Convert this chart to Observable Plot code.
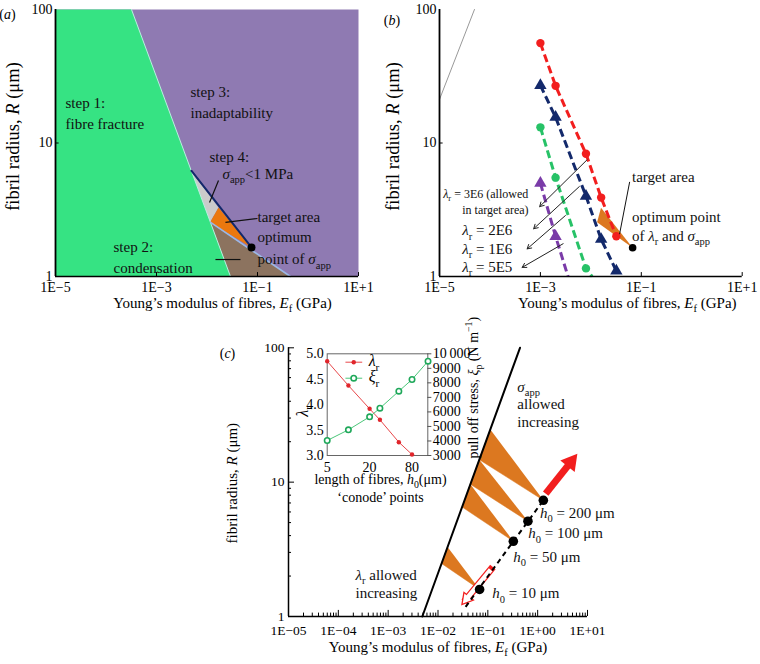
<!DOCTYPE html>
<html><head><meta charset="utf-8">
<script src="https://cdn.jsdelivr.net/npm/d3@7"></script>
<script src="https://cdn.jsdelivr.net/npm/@observablehq/plot@0.6"></script>
<style>
body{margin:0;background:#fff}
#root{position:relative;width:760px;height:664px;overflow:hidden;background:#fff}
#root svg{position:absolute;overflow:visible}
</style>
</head><body><div id="root"></div>
<script>
// ================= DATA =================
// ---- panel (a): regions, E = Young's modulus (GPa), R = fibril radius (μm)
const fractureE = [1e-5, 3.2e-4, 0.0292, 1e-5];
const fractureR = [100, 100, 1, 1];
const condensE = [0.0115, 0.0292, 0.45];
const condensR = [2.54, 1, 1];
const step4E = [4.8e-3, 0.0169, 0.0115];
const step4R = [6.2, 3.29, 2.54];
const targetAE = [0.0169, 0.0115, 0.076];
const targetAR = [3.29, 2.54, 1.65];
const sigmaLineAE = [4.9e-3, 0.076];
const sigmaLineAR = [6.2, 1.65];
const condLineAE = [0.0118, 0.45];
const condLineAR = [2.54, 1];
const optimumAE = [0.076];
const optimumAR = [1.65];
const labelAText = ["step 1:", "fibre fracture", "step 3:", "inadaptability", "step 4:", "*σ*_{app}<1 MPa", "target area", "optimum", "point of *σ*_{app}", "step 2:", "condensation"];
const labelAE = [1.58e-5, 1.58e-5, 4.71e-3, 4.71e-3, 0.0112, 0.0203, 0.1, 0.1, 0.1, 1.41e-4, 1.41e-4];
const labelAR = [19.8, 13.8, 23.9, 16.6, 7.78, 5.81, 2.77, 1.96, 1.34, 1.65, 1.15];
const leaderAE1 = [0.0169, 0.0232, 0.0147];
const leaderAR1 = [5.24, 2.54, 1.34];
const leaderAE2 = [0.01122, 0.1, 0.046];
const leaderAR2 = [3.58, 2.72, 1.34];

// ---- shared axis ticks for (a) and (b)
const abXTicks = [1e-5, 1e-3, 1e-1, 10];
const abXLabels = ["1E−5", "1E−3", "1E−1", "1E+1"];
const abYTicks = [1, 10, 100];
const abYLabels = ["1", "10", "100"];

// ---- panel (b)
const guideBE = [1e-5, 4.93e-5];
const guideBR = [21.2, 100];
const lam3E6E = [0.001, 0.002, 0.008, 0.016, 0.032];
const lam3E6R = [56, 26.8, 8.3, 3.9, 2.0];
const lam2E6E = [0.001, 0.002, 0.008, 0.016, 0.032];
const lam2E6R = [27, 15.6, 4.0, 1.9, 1.1];
const lam1E6E = [0.001, 0.002, 0.008];
const lam1E6R = [13.1, 5.5, 1.15];
const lam1E6LineE = [0.001, 0.002, 0.008, 0.0106];
const lam1E6LineR = [13.1, 5.5, 1.15, 1];
const lam5E5E = [0.001, 0.002];
const lam5E5R = [5.0, 2.0];
const lam5E5LineE = [0.001, 0.002, 3.53e-3];
const lam5E5LineR = [5.0, 2.0, 1];
const targetBE = [0.0159, 0.0133, 0.0673];
const targetBR = [3.27, 2.55, 1.64];
const optimumBE = [0.0673];
const optimumBR = [1.64];
const arrowBE1 = [8.41e-3, 5.92e-3, 3.13e-3, 2.82e-3];
const arrowBR1 = [7.48, 4.72, 2.86, 1.76];
const arrowBE2 = [9.68e-4, 7.36e-4, 5.46e-4, 4.35e-4];
const arrowBR2 = [3.34, 2.28, 1.61, 1.17];
const labelBText = ["*λ*_{r} = 3E6 (allowed", "in target area)", "*λ*_{r} = 2E6", "*λ*_{r} = 1E6", "*λ*_{r} = 5E5", "target area", "optimum point", "of *λ*_{r} and *σ*_{app}"];
const labelBE = [1.18e-5, 2.82e-5, 2.82e-5, 2.82e-5, 2.82e-5, 0.0655, 0.0655, 0.0655];
const labelBR = [4.16, 3.12, 2.21, 1.61, 1.17, 5.55, 2.78, 2.02];
const labelBSize = [12, 12, 15, 15, 15, 15, 15, 15];
const leaderBE = [0.0586, 0.0372];
const leaderBR = [5.08, 2.09];

// ---- panel (c)
const limitCE = [4.84e-3, 0.442];
const limitCR = [1, 100];
const conodeH0 = [10, 50, 100, 200];
const conodeE = [0.0684, 0.325, 0.638, 1.30];
const conodeR = [1.59, 3.63, 5.12, 7.33];
const conodeLineE = [0.0358, 1.30];
const conodeLineR = [1.18, 7.33];
const wedgeTopE = [0.1122, 0.0675, 0.0446, 0.01556];
const wedgeTopR = [24.7, 14.7, 9.64, 3.29];
const wedgeBotE = [0.0675, 0.0446, 0.0305, 0.01178];
const wedgeBotR = [14.7, 9.64, 6.53, 2.48];
const wedgeApex = [3, 2, 1, 0]; // index into conode arrays
const sigmaArrowE = [1.45, 4.62];
const sigmaArrowR = [8.21, 14.1];
const lambdaArrowE = [0.1138, 0.0372];
const lambdaArrowR = [2.23, 1.35];
const labelCText = ["*σ*_{app}", "allowed", "increasing", "*h*_{0} = 200 μm", "*h*_{0} = 100 μm", "*h*_{0} = 50 μm", "*h*_{0} = 10 μm", "*λ*_{r} allowed", "increasing"];
const labelCE = [0.391, 0.391, 0.391, 1.11, 0.650, 0.325, 0.123, 2.21e-4, 2.21e-4];
const labelCR = [50.9, 37.8, 28.0, 5.89, 4.14, 2.77, 1.48, 2.03, 1.50];
const cXTicks = [1e-5, 1e-4, 1e-3, 1e-2, 1e-1, 1, 10];
const cXLabels = ["1E−05", "1E−04", "1E−03", "1E−02", "1E−01", "1E+00", "1E+01"];
const cYTicks = [1, 10, 100];
const cYLabels = ["1", "10", "100"];
const minorSteps = [2, 3, 4, 5, 6, 7, 8, 9];

// ---- inset
const insetH0 = [5, 10, 20, 28, 52, 80, 135];
const insetLambda = [4.854, 4.376, 3.918, 3.702, 3.262, 3.02];
const insetXi = [4032, 4768, 5663, 6255, 7425, 8231, 9491];
const insetXTicks = [5, 20, 80];
const insetLTicks = [3.0, 3.5, 4.0, 4.5, 5.0];
const insetLLabels = ["3.0", "3.5", "4.0", "4.5", "5.0"];
const insetRTicks = [3000, 4000, 5000, 6000, 7000, 8000, 9000, 10000];
const insetRLabels = ["3000", "4000", "5000", "6000", "7000", "8000", "9000", "10\u2009000"];
const legendText = ["*λ*_{r}", "*ξ*_{r}"];
const legendY = [4.835, 4.52];

// ================= HELPERS =================
const FONT = "'Liberation Serif', 'DejaVu Serif', serif";
const STYLE = {fontFamily: FONT, fontSize: "14px", background: "transparent", overflow: "visible", color: "#000"};
const zip = (o) => { const k = Object.keys(o); return o[k[0]].map((_, i) => Object.fromEntries(k.map((key) => [key, o[key][i]]))); };
const GREEN = "#36e383", PURPLE = "#8f7ab2", BROWN = "#8c735f", GRAY = "#cbcbcb", ORANGE_A = "#eb780f", ORANGE = "#dc7820";
const NAVY = "#13296b", RED = "#f21e1e", GR = "#27c267", VIO = "#7a3ba8", LBLUE = "#9bb8e6";

function richify(svg) {
  svg.querySelectorAll("text").forEach((t) => {
    const s = t.textContent;
    if (!/_\{|\^\{|\*/.test(s)) return;
    const fs = parseFloat(getComputedStyle(t).fontSize) || 14;
    t.textContent = "";
    let shift = 0;
    for (const part of s.split(/(_\{[^}]*\}|\^\{[^}]*\}|\*[^*]+\*)/)) {
      if (!part) continue;
      const ts = document.createElementNS("http://www.w3.org/2000/svg", "tspan");
      let target = 0, txt = part;
      if (part.startsWith("_{")) { target = 0.28 * fs; txt = part.slice(2, -1); ts.setAttribute("font-size", 0.7 * fs); }
      else if (part.startsWith("^{")) { target = -0.38 * fs; txt = part.slice(2, -1); ts.setAttribute("font-size", 0.7 * fs); }
      else if (part.startsWith("*")) { txt = part.slice(1, -1); ts.setAttribute("font-style", "italic"); }
      if (target !== shift) { ts.setAttribute("dy", target - shift); shift = target; }
      ts.textContent = txt;
      t.appendChild(ts);
    }
  });
}
const root = document.getElementById("root");
function place(svg, left, top) { svg.style.left = left + "px"; svg.style.top = top + "px"; root.appendChild(svg); richify(svg); }

function abAxes(frameDx, titleDx) {
  return [
    Plot.ruleX([1e-5], {stroke: "#000", strokeWidth: 1.8}),
    Plot.ruleY([1], {stroke: "#000", strokeWidth: 1.5}),
    Plot.ruleX(abXTicks.slice(1), {x: (d) => d, y1: 1, y2: 1.07, stroke: "#000"}),
    Plot.ruleY([10], {y: (d) => d, x1: 1e-5, x2: 1.18e-5, stroke: "#000"}),
    Plot.text(abXTicks, {x: (d) => d, y: () => 1, dy: 11, text: (d, i) => abXLabels[i], fontSize: 14}),
    Plot.text(abYTicks, {x: () => 1e-5, y: (d) => d, dx: -3, textAnchor: "end", text: (d, i) => abYLabels[i], fontSize: 14}),
    Plot.text(["Young’s modulus of fibres, *E*_{f} (GPa)"], {frameAnchor: "bottom", textAnchor: "middle", dy: 31, dx: titleDx, fontSize: 15}),
    Plot.text(["fibril radius, *R* (μm)"], {frameAnchor: "left", textAnchor: "middle", dx: frameDx, dy: -6.5, rotate: -90, fontSize: 18.5})
  ];
}

// ================= PANEL (a) =================
const A = Plot.plot({
  width: 380, height: 320, marginLeft: 55, marginRight: 22, marginTop: 9, marginBottom: 44,
  style: STYLE,
  x: {type: "log", domain: [1e-5, 10], axis: null},
  y: {type: "log", domain: [1, 100], axis: null},
  marks: [
    Plot.frame({fill: PURPLE, stroke: "none"}),
    Plot.line(zip({E: condensE, R: condensR}), {x: "E", y: "R", fill: BROWN, stroke: "none"}),
    Plot.line(zip({E: step4E, R: step4R}), {x: "E", y: "R", fill: GRAY, stroke: "none"}),
    Plot.line(zip({E: targetAE, R: targetAR}), {x: "E", y: "R", fill: ORANGE_A, stroke: "none"}),
    Plot.line(zip({E: fractureE, R: fractureR}), {x: "E", y: "R", fill: GREEN, stroke: "none"}),
    Plot.line(zip({E: fractureE.slice(1, 3), R: fractureR.slice(1, 3)}), {x: "E", y: "R", stroke: "#b9efe0", strokeWidth: 1}),
    Plot.line(zip({E: condLineAE, R: condLineAR}), {x: "E", y: "R", stroke: LBLUE, strokeWidth: 1.6}),
    Plot.line(zip({E: sigmaLineAE, R: sigmaLineAR}), {x: "E", y: "R", stroke: NAVY, strokeWidth: 2}),
    ...abAxes(-42, 15.5),
    Plot.dot(zip({E: optimumAE, R: optimumAR}), {x: "E", y: "R", r: 4, fill: "#000"}),
    Plot.link(zip({E1: leaderAE1, R1: leaderAR1, E2: leaderAE2, R2: leaderAR2}), {x1: "E1", y1: "R1", x2: "E2", y2: "R2", stroke: "#111", strokeWidth: 1.2}),
    Plot.text(zip({E: labelAE, R: labelAR, t: labelAText}), {x: "E", y: "R", text: "t", textAnchor: "start", fontSize: 15, fill: "#111"}),
    Plot.text(["(*a*)"], {frameAnchor: "top-left", textAnchor: "middle", dx: -48, dy: 0, fontSize: 14})
  ]
});
place(A, 0, 0);

// ================= PANEL (b) =================
const dash = {strokeWidth: 3, strokeDasharray: "8,4", strokeLinecap: "butt"};
const B = Plot.plot({
  width: 380, height: 320, marginLeft: 59, marginRight: 18.3, marginTop: 9, marginBottom: 44,
  style: STYLE,
  x: {type: "log", domain: [1e-5, 10], axis: null},
  y: {type: "log", domain: [1, 100], axis: null},
  marks: [
    Plot.line(zip({E: guideBE, R: guideBR}), {x: "E", y: "R", stroke: "#999", strokeWidth: 1}),
    Plot.line(zip({E: targetBE, R: targetBR}), {x: "E", y: "R", fill: ORANGE, stroke: "none"}),
    Plot.line(zip({E: lam5E5LineE, R: lam5E5LineR}), {x: "E", y: "R", stroke: VIO, ...dash}),
    Plot.line(zip({E: lam1E6LineE, R: lam1E6LineR}), {x: "E", y: "R", stroke: GR, ...dash}),
    Plot.line(zip({E: lam2E6E, R: lam2E6R}), {x: "E", y: "R", stroke: NAVY, ...dash}),
    Plot.line(zip({E: lam3E6E, R: lam3E6R}), {x: "E", y: "R", stroke: RED, ...dash}),
    Plot.dot(zip({E: lam5E5E, R: lam5E5R}), {x: "E", y: "R", symbol: "triangle", r: 4.6, fill: VIO}),
    Plot.dot(zip({E: lam1E6E, R: lam1E6R}), {x: "E", y: "R", r: 4.2, fill: GR}),
    Plot.dot(zip({E: lam2E6E, R: lam2E6R}), {x: "E", y: "R", symbol: "triangle", r: 4.6, fill: NAVY}),
    Plot.dot(zip({E: lam3E6E, R: lam3E6R}), {x: "E", y: "R", r: 4.2, fill: RED}),
    Plot.dot(zip({E: optimumBE, R: optimumBR}), {x: "E", y: "R", r: 3.8, fill: "#000"}),
    Plot.arrow(zip({E1: arrowBE1, R1: arrowBR1, E2: arrowBE2, R2: arrowBR2}), {x1: "E1", y1: "R1", x2: "E2", y2: "R2", stroke: "#222", strokeWidth: 1, headLength: 7}),
    Plot.line(zip({E: leaderBE, R: leaderBR}), {x: "E", y: "R", stroke: "#111", strokeWidth: 1}),
    ...abAxes(-46, 36.4),
    Plot.text(zip({E: labelBE, R: labelBR, t: labelBText, s: labelBSize}), {x: "E", y: "R", text: "t", textAnchor: "start", fontSize: "s", fill: "#111"}),
    Plot.text(["(*b*)"], {frameAnchor: "top-left", textAnchor: "middle", dx: -47.5, dy: 6, fontSize: 14})
  ]
});
place(B, 380, 0);

// ================= PANEL (c) =================
const wedgeRows = wedgeTopE.flatMap((e, i) => [
  {E: e, R: wedgeTopR[i], w: i},
  {E: wedgeBotE[i], R: wedgeBotR[i], w: i},
  {E: conodeE[wedgeApex[i]], R: conodeR[wedgeApex[i]], w: i}
]);
const cXMinor = cXTicks.slice(0, -1).flatMap((d) => minorSteps.map((m) => d * m));
const cYMinor = cYTicks.slice(0, -1).flatMap((d) => minorSteps.map((m) => d * m));
const arrowC = (E, R) => [{E1: E[0], R1: R[0], E2: E[1], R2: R[1]}];
const C = Plot.plot({
  width: 760, height: 344, marginLeft: 288, marginRight: 173, marginTop: 27.3, marginBottom: 48,
  style: STYLE,
  x: {type: "log", domain: [1e-5, 10], axis: null},
  y: {type: "log", domain: [1, 100], axis: null},
  marks: [
    Plot.line(wedgeRows, {x: "E", y: "R", z: "w", fill: ORANGE, stroke: ORANGE, strokeWidth: 0.5}),
    Plot.line(zip({E: limitCE, R: limitCR}), {x: "E", y: "R", stroke: "#000", strokeWidth: 2}),
    // hollow arrow (lambda allowed increasing)
    Plot.link(arrowC(lambdaArrowE, lambdaArrowR), {x1: "E1", y1: "R1", x2: "E2", y2: "R2", stroke: RED, strokeWidth: 7, strokeLinecap: "square"}),
    Plot.dot(arrowC(lambdaArrowE, lambdaArrowR), {x: "E2", y: "R2", symbol: "triangle", r: 5.4, rotate: 219.4, fill: RED}),
    Plot.link(arrowC(lambdaArrowE, lambdaArrowR), {x1: "E1", y1: "R1", x2: "E2", y2: "R2", stroke: "#fff", strokeWidth: 4.6, strokeLinecap: "butt"}),
    Plot.dot(arrowC(lambdaArrowE, lambdaArrowR), {x: "E2", y: "R2", symbol: "triangle", r: 3.7, rotate: 219.4, fill: "#fff"}),
    // filled arrow (sigma allowed increasing)
    Plot.link(arrowC(sigmaArrowE, sigmaArrowR), {x1: "E1", y1: "R1", x2: "E2", y2: "R2", stroke: RED, strokeWidth: 7, strokeLinecap: "butt"}),
    Plot.dot(arrowC(sigmaArrowE, sigmaArrowR), {x: "E2", y: "R2", symbol: "triangle", r: 6.8, rotate: 38.4, fill: RED}),
    Plot.line(zip({E: conodeLineE, R: conodeLineR}), {x: "E", y: "R", stroke: "#000", strokeWidth: 2, strokeDasharray: "5,4", strokeLinecap: "butt"}),
    Plot.dot(zip({E: conodeE, R: conodeR, h: conodeH0}), {x: "E", y: "R", r: 4.8, fill: "#000"}),
    // axes
    Plot.ruleX([1e-5], {stroke: "#000", strokeWidth: 1.5}),
    Plot.ruleY([1], {stroke: "#000", strokeWidth: 1.5}),
    Plot.ruleX(cXTicks, {x: (d) => d, y1: 1, y2: 1.11, stroke: "#000", strokeWidth: 1}),
    Plot.ruleX(cXMinor, {x: (d) => d, y1: 1, y2: 1.06, stroke: "#000", strokeWidth: 1}),
    Plot.ruleY(cYTicks, {y: (d) => d, x1: 1e-5, x2: 1.32e-5, stroke: "#000", strokeWidth: 1}),
    Plot.ruleY(cYMinor, {y: (d) => d, x1: 1e-5, x2: 1.15e-5, stroke: "#000", strokeWidth: 1}),
    Plot.text(cXTicks, {x: (d) => d, y: () => 1, dy: 14, text: (d, i) => cXLabels[i], fontSize: 13.5}),
    Plot.text(cYTicks, {x: () => 1e-5, y: (d) => d, dx: -4, textAnchor: "end", text: (d, i) => cYLabels[i], fontSize: 13.5}),
    Plot.text(["Young’s modulus of fibres, *E*_{f} (GPa)"], {frameAnchor: "bottom", textAnchor: "middle", dy: 35.7, fontSize: 15}),
    Plot.text(["fibril radius, *R* (μm)"], {frameAnchor: "left", textAnchor: "middle", dx: -56, dy: 1, rotate: -90, fontSize: 15}),
    Plot.text(zip({E: labelCE, R: labelCR, t: labelCText}), {x: "E", y: "R", text: "t", textAnchor: "start", fontSize: 15, fill: "#111"}),
    Plot.text(["(*c*)"], {frameAnchor: "top-left", textAnchor: "middle", dx: -61, dy: 0.5, fontSize: 14})
  ]
});
place(C, 0, 320);

// ================= INSET =================
const xiToL = (v) => 3 + (v - 3000) / 3500;
const lamRows = zip({h: insetH0.slice(0, insetLambda.length), v: insetLambda});
const xiRows = zip({h: insetH0, v: insetXi});
const I = Plot.plot({
  width: 760, height: 344, marginLeft: 326.7, marginRight: 332.7, marginTop: 33.3, marginBottom: 209,
  style: STYLE,
  x: {type: "log", domain: [5, 134], axis: null},
  y: {domain: [3, 5], axis: null},
  marks: [
    Plot.frame({fill: "#fff", stroke: "#666", strokeWidth: 1}),
    Plot.line(lamRows, {x: "h", y: "v", stroke: "#e8474a", strokeWidth: 1}),
    Plot.dot(lamRows, {x: "h", y: "v", r: 2.2, fill: "#e0252b"}),
    Plot.line(xiRows, {x: "h", y: (d) => xiToL(d.v), stroke: "#4cc77a", strokeWidth: 1}),
    Plot.dot(xiRows, {x: "h", y: (d) => xiToL(d.v), r: 2.7, fill: "#fff", stroke: "#1fa85a", strokeWidth: 1.6}),
    // legend
    Plot.link(legendY, {x1: () => 9.08, x2: () => 15.7, y1: (d) => d, y2: (d) => d, stroke: (d, i) => ["#e8474a", "#4cc77a"][i], strokeWidth: 1}),
    Plot.dot([legendY[0]], {x: () => 11.9, y: (d) => d, r: 2.2, fill: "#e0252b"}),
    Plot.dot([legendY[1]], {x: () => 11.9, y: (d) => d, r: 2.7, fill: "#fff", stroke: "#1fa85a", strokeWidth: 1.6}),
    Plot.text(legendText, {x: () => 19.4, y: (d, i) => legendY[i] + 0.02, text: (d) => d, textAnchor: "start", fontSize: 16}),
    // axes
    Plot.ruleY(insetRTicks, {y: (d) => xiToL(d), x1: 134, x2: 153, stroke: "#555", strokeWidth: 1}),
    Plot.text(insetLTicks, {x: () => 5, y: (d) => d, dx: -3.5, textAnchor: "end", text: (d, i) => insetLLabels[i], fontSize: 14}),
    Plot.text(insetRTicks, {x: () => 134, y: (d) => xiToL(d), dx: 5, textAnchor: "start", text: (d, i) => insetRLabels[i], fontSize: 14}),
    Plot.text(insetXTicks, {x: (d) => d, y: () => 3, dy: 12.5, text: (d) => String(d), fontSize: 14}),
    Plot.text(["length of fibres, *h*_{0}(μm)"], {frameAnchor: "bottom", textAnchor: "middle", dx: 3, dy: 28.5, fontSize: 14}),
    Plot.text(["‘conode’ points"], {frameAnchor: "bottom", textAnchor: "middle", dx: 3, dy: 46.5, fontSize: 14}),
    Plot.text(["*λ*_{r}"], {frameAnchor: "left", textAnchor: "middle", dx: -24.7, dy: 6.8, rotate: -90, fontSize: 16}),
    Plot.text(["pull off stress, *ξ*_{p} (N m^{−1})"], {frameAnchor: "bottom-right", dx: 50, dy: 3, rotate: -90, textAnchor: "start", fontSize: 14})
  ]
});
place(I, 0, 320);
</script>
</body></html>
